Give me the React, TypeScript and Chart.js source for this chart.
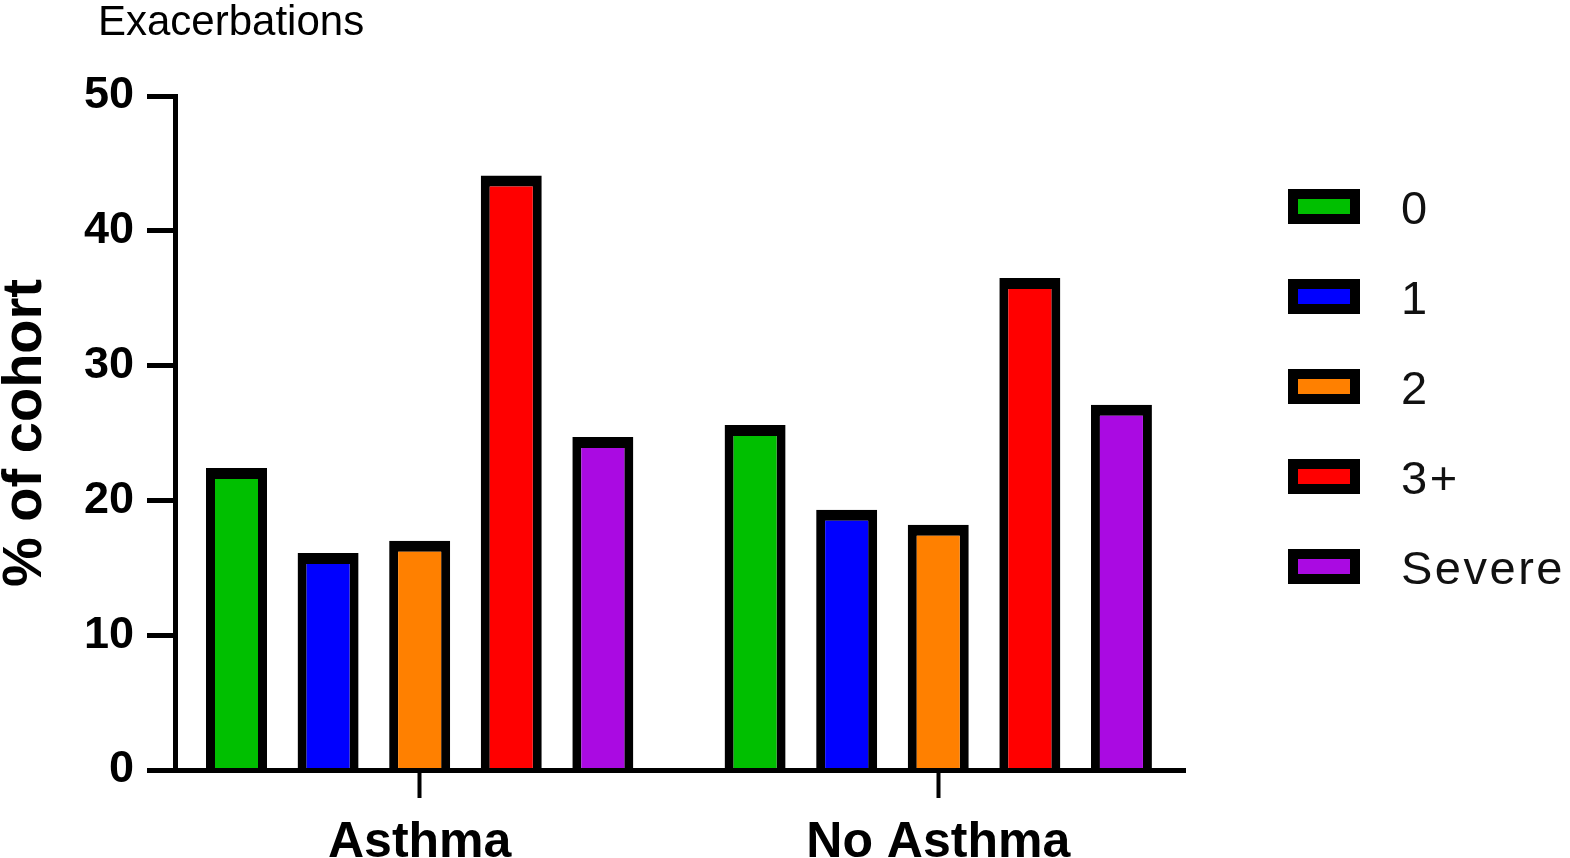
import React, { useEffect, useRef } from "react";
import { Chart, registerables } from "chart.js";

Chart.register(...registerables);

// ---- data ----
const categories = ["Asthma", "No Asthma"];
const seriesLabels = ["0", "1", "2", "3+", "Severe"];
const series0 = [22.4, 25.6];
const series1 = [16.1, 19.3];
const series2 = [17.0, 18.2];
const series3plus = [44.1, 36.5];
const seriesSevere = [24.7, 27.1];
const seriesColors = ["#00BF00", "#0000FF", "#FF8000", "#FF0000", "#AA0AE2"];
const yTickValues = [0, 10, 20, 30, 40, 50];
const chartTitle = "Exacerbations";
const yAxisTitle = "% of cohort";

const allSeries = [series0, series1, series2, series3plus, seriesSevere];
const FONT = '"Liberation Sans", Arial, Helvetica, sans-serif';

const overlayPlugin = {
  id: "overlayText",
  afterDraw(chart: any) {
    const ctx = chart.ctx;
    ctx.save();
    // top-left caption
    ctx.fillStyle = "#000";
    ctx.font = `42px ${FONT}`;
    ctx.textAlign = "left";
    ctx.textBaseline = "alphabetic";
    ctx.fillText(chartTitle, 98, 35);

    // legend
    chart.data.datasets.forEach((ds: any, i: number) => {
      const cy = 206.5 + i * 90;
      ctx.fillStyle = ds.backgroundColor;
      ctx.fillRect(1293, cy - 12.5, 62, 25);
      ctx.lineWidth = 10;
      ctx.strokeStyle = "#000";
      ctx.strokeRect(1293, cy - 12.5, 62, 25);
      ctx.fillStyle = "#111";
      ctx.font = `47px ${FONT}`;
      try {
        (ctx as any).letterSpacing = "2.5px";
      } catch (e) {}
      ctx.textBaseline = "alphabetic";
      ctx.fillText(ds.label, 1401, cy + 17.5);
      try {
        (ctx as any).letterSpacing = "0px";
      } catch (e) {}
    });
    ctx.restore();
  },
};

export default function App() {
  const ref = useRef<HTMLCanvasElement | null>(null);

  useEffect(() => {
    if (!ref.current) return;
    const chart = new Chart(ref.current, {
      type: "bar",
      data: {
        datasets: allSeries.map((vals, si) => ({
          label: seriesLabels[si],
          data: vals.map((v, i) => ({ x: i, y: v })),
          backgroundColor: seriesColors[si],
          borderColor: "#000",
          borderWidth: { top: 11, left: 9, right: 9, bottom: 0 },
          borderSkipped: "start",
          categoryPercentage: 0.883,
          barPercentage: 0.666,
        })),
      },
      options: {
        responsive: false,
        animation: false,
        devicePixelRatio: 1,
        layout: { padding: { left: 0, top: 96, right: 385, bottom: 0 } },
        plugins: {
          legend: { display: false },
          title: { display: false },
          tooltip: { enabled: false },
        },
        scales: {
          x: {
            type: "linear",
            min: -0.4718,
            max: 1.4758,
            offset: false,
            afterBuildTicks: (scale: any) => {
              scale.ticks = categories.map((_, i) => ({ value: i }));
            },
            afterFit: (scale: any) => {
              scale.height = 88;
            },
            grid: {
              offset: false,
              drawOnChartArea: false,
              drawTicks: true,
              tickLength: 28,
              tickWidth: 4,
              tickColor: "#000",
            },
            border: { display: true, color: "#000", width: 5, z: 1 },
            ticks: {
              color: "#000",
              padding: 20,
              maxRotation: 0,
              autoSkip: false,
              font: { family: FONT, size: 50, weight: "bold", lineHeight: 1 },
              callback: (v: any) => categories[v] ?? "",
            },
          },
          y: {
            type: "linear",
            min: yTickValues[0],
            max: yTickValues[yTickValues.length - 1],
            afterBuildTicks: (scale: any) => {
              scale.ticks = yTickValues.map((v) => ({ value: v }));
            },
            afterFit: (scale: any) => {
              scale.width = 175;
            },
            grid: {
              drawOnChartArea: false,
              drawTicks: true,
              tickLength: 28,
              tickWidth: 5,
              tickColor: "#000",
            },
            border: { display: true, color: "#000", width: 5, z: 1 },
            ticks: {
              color: "#000",
              padding: 13,
              font: { family: FONT, size: 45, weight: "bold", lineHeight: 1 },
            },
            title: {
              display: true,
              text: yAxisTitle,
              color: "#000",
              padding: 0,
              font: { family: FONT, size: 56, weight: "bold", lineHeight: 0.93 },
            },
          },
        },
      },
      plugins: [overlayPlugin],
    } as any);
    return () => chart.destroy();
  }, []);

  return (
    <div style={{ position: "fixed", left: 0, top: 0, width: 1570, height: 858, background: "#fff" }}>
      <canvas ref={ref} width={1570} height={858} style={{ width: 1570, height: 858, display: "block" }} />
    </div>
  );
}
